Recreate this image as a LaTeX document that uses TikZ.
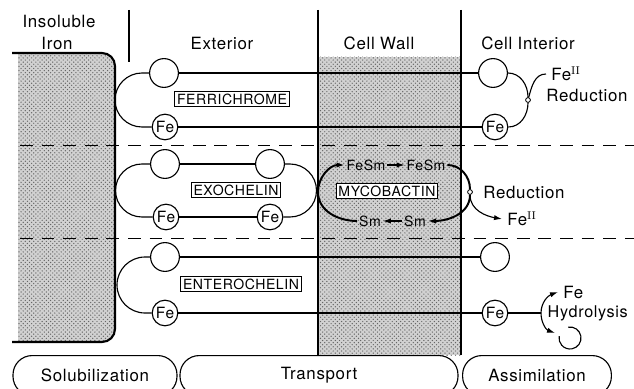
\documentclass[tikz,border=0pt]{standalone}
\usepackage{fontspec}
\setsansfont{TeX Gyre Heros}[LetterSpace=4]
\usetikzlibrary{arrows.meta,patterns}
\tikzset{
  lig/.style={draw, circle, line width=0.8pt, minimum size=7.2mm, inner sep=0pt, fill=white},
  fe/.style={draw, circle, line width=0.8pt, minimum size=6.4mm, inner sep=0pt, fill=white,
    font=\sffamily\fontsize{11}{12}\selectfont},
  tag/.style={draw, line width=0.7pt, fill=white, inner sep=1.5pt,
    font=\sffamily\fontsize{10}{11}\selectfont},
  chem/.style={inner sep=1pt, font=\sffamily\fontsize{10}{11}\selectfont},
  redox/.style={draw, circle, fill=white, line width=0.6pt, minimum size=1.2mm, inner sep=0pt},
  phase/.style={draw, line width=0.8pt, rounded corners=4.8mm, minimum height=10mm, anchor=north},
  stipple/.style={fill=black!18, postaction={pattern=crosshatch dots, pattern color=black!60}},
  dashline/.style={line width=0.7pt, dash pattern=on 3.2mm off 2.2mm},
  cycleline/.style={line width=1.4pt},
  tip/.style={-{Latex[length=2mm,width=1.3mm]}},
}

\begin{document}
\begin{tikzpicture}[x=0.25mm, y=0.25mm, line width=0.8pt, font=\sffamily\fontsize{12}{14}\selectfont]
  \useasboundingbox (0,0) rectangle (634,-389);
  \clip (0,0) rectangle (634,-389);

  % Insoluble iron block
  \fill[stipple] (18,-53) -- (102,-53) arc[start angle=90,end angle=0,radius=13]
    -- (115,-329) arc[start angle=0,end angle=-90,radius=13] -- (18,-342) -- cycle;
  \draw[line width=1.5pt] (12,-53) -- (102,-53) arc[start angle=90,end angle=0,radius=13]
    -- (115,-329) arc[start angle=0,end angle=-90,radius=13] -- (12,-342);

  % Cell wall
  \fill[stipple] (318,-57) rectangle (461,-355);
  \draw (318,-10) -- (318,-355);
  \draw (461,-10) -- (461,-355);
  \draw (129,-10) -- (129,-62);

  % Column headings
  \node (hins) at (59,-21) {Insoluble};
  \node (hiron) at (57,-43) {Iron};
  \node (hext) at (222,-43) {Exterior};
  \node (hwall) at (379,-43) {Cell Wall};
  \node (hint) at (528,-43) {Cell Interior};

  % Dashed separators
  \draw[dashline] (20,-145) -- (634,-145);
  \draw[dashline] (20,-238) -- (634,-238);

  % Ferrichrome
  \node[lig] (fc1) at (164,-73) {};
  \node[fe] (fc2) at (165,-127) {Fe};
  \node[lig] (fc3) at (493,-73) {};
  \node[fe] (fc4) at (495,-127) {Fe};
  \node[tag] (fctag) at (232,-99) {FERRICHROME};
  \draw (fc1.east) -- (fc3.west);
  \draw (fc2.east) -- (fc4.west);
  \draw (fc1.west) -- (142,-73) arc[start angle=90,end angle=270,radius=27] -- (fc2.west);
  \node[redox] (red1) at (528,-100) {};
  \draw (fc3.east) to[out=0,in=90] (red1) to[out=-90,in=0] (fc4.east);
  \node[anchor=west] (fe2a) at (546,-74) {Fe$^{\mathrm{II}}$};
  \node (redt1) at (587,-95) {Reduction};
  \draw (red1) to[out=75,in=180] (fe2a.west);

  % Exochelin
  \node[lig] (ex1) at (165,-164) {};
  \node[lig] (ex2) at (270,-164) {};
  \node[fe] (ex3) at (166,-217) {Fe};
  \node[fe] (ex4) at (270,-217) {Fe};
  \node[tag] (extag) at (236,-190) {EXOCHELIN};
  \draw (ex1) -- (ex2);
  \draw (ex3) -- (ex4);
  \draw (ex1.west) -- (142,-164) arc[start angle=90,end angle=270,radius=26.5] -- (ex3.west);
  \draw (ex2.east) -- (290,-164) arc[start angle=90,end angle=-90,radius=26.5] -- (ex4.east);

  % Mycobactin cycle
  \node[tag] (mytag) at (387,-191) {MYCOBACTIN};
  \node[chem] (fesm1) at (366,-165) {FeSm};
  \node[chem] (fesm2) at (426,-165) {FeSm};
  \node[chem] (sm1) at (370,-221) {Sm};
  \node[chem] (sm2) at (415,-221) {Sm};
  \node[redox] (red2) at (470,-192) {};
  \node (redt2) at (524,-192) {Reduction};
  \node[anchor=west] (fe2b) at (502,-219) {Fe$^{\mathrm{II}}$};
  \draw[tip] (fesm1) -- (fesm2);
  \draw[tip] (sm2) -- (sm1);
  \draw[cycleline, tip] (sm1.west) to[out=180,in=-90] (318,-192) to[out=90,in=180] (fesm1.west);
  \draw[cycleline] (fesm2.east) to[out=0,in=90] (red2);
  \draw[cycleline, tip] (red2) to[out=-90,in=0] (sm2.east);
  \draw[tip] (red2) to[out=-90,in=170] (fe2b.west);

  % Enterochelin
  \node[lig] (en1) at (165,-257) {};
  \node[fe] (en2) at (165,-313) {Fe};
  \node[lig] (en3) at (495,-257) {};
  \node[fe] (en4) at (495,-313) {Fe};
  \node[tag] (entag) at (241,-284) {ENTEROCHELIN};
  \draw (en1) -- (en3);
  \draw (en2) -- (en4);
  \draw (en1.west) -- (145,-257) arc[start angle=90,end angle=270,radius=28] -- (en2.west);
  \coordinate (hy) at (541,-313);
  \coordinate (gap) at (555,-333);
  \node[anchor=west] (fe3) at (558,-292) {Fe};
  \node[anchor=east, font=\sffamily\fontsize{11.5}{13}\selectfont] (hydt) at (633,-313) {Hydrolysis};
  \draw (en4) -- (hy);
  \draw[tip] (hy) to[out=90,in=200] (fe3.west);
  \draw[tip] (hy) to[out=-90,in=160] (gap);
  \draw (570,-338) ++(100:11) arc[start angle=100,end angle=-190,radius=11];

  % Stages
  \node[phase, minimum width=41mm] (sol) at (95,-355) {Solubilization};
  \node[phase, minimum width=69.5mm] (tra) at (319,-355) {Transport};
  \node[phase, minimum width=37.2mm] (ass) at (537,-355) {Assimilation};
\end{tikzpicture}
\end{document}
